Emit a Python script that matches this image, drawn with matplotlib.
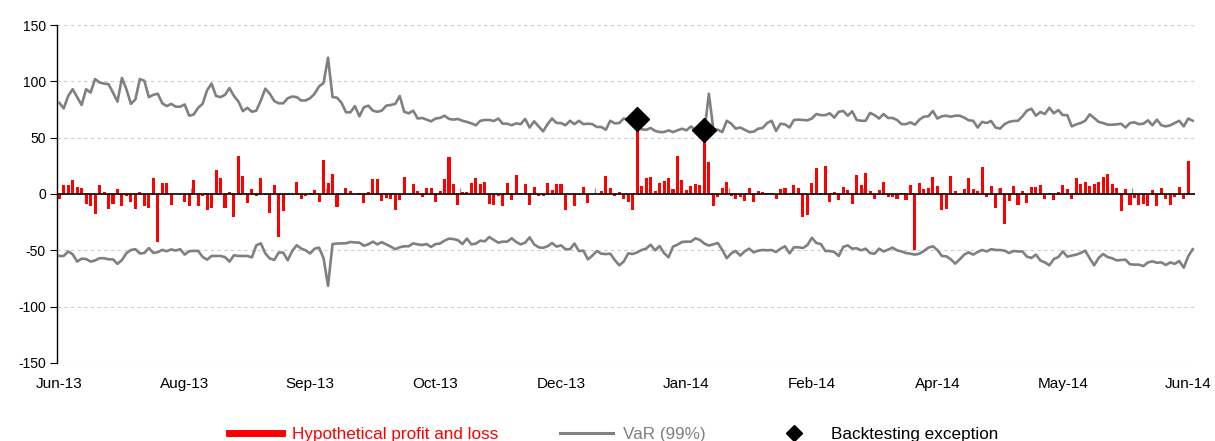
import numpy as np
import matplotlib
matplotlib.use('Agg')
import matplotlib.pyplot as plt
from matplotlib.lines import Line2D

# daily hypothetical P&L (one value per trading day)
pnl = [
    -4, 8, 8, 12, 6, 5, -9, -11, -18, 8,
    2, -13, -9, 4, -11, -1.5, -7, -13, 2, -11,
    -12, 14, -43, 10, 10, -10, 0, 0, -7, -11,
    12, -11, -2, -14, -12, 21, 14, -12, 2, -20,
    34, 16, -8, 4, -2, 14, -1, -17, 8, -38,
    -15, -1, 0, 11, -4, -1.5, 1, 3.5, -7, 30,
    9.5, 17.5, -11.5, 0, 5, 2.5, 0, 1, -8, 1.5,
    13, 13, -6, -3.5, -4, -14, -5, 15, 0, 9,
    3, -3, 5, 5, -7, 2.5, 13, 33, 9, -9.5,
    2, 2, 9.5, 14, 9, 10.5, -9, -10, -1.5, -11,
    10, -5, 16.5, 1, 8.5, -10, 6, -1.5, -2, 9.5,
    3.5, 9, 8.5, -14, 0, -10.5, 0, 6, -8, 0,
    0, 3, 16, 5.5, -1.5, 1.5, -4, -7.5, -14, 67,
    7, 14, 15, 2.7, 10, 11.5, 14, 4.7, 34, 12.4,
    3.6, 7, 9, 8, 57, 28, -10.5, -2.4, 5, 11,
    -1.5, -4, -2.4, -6.5, 5, -7, 2.4, 2, 0.6, 0.6,
    -4.5, 4.4, 5.3, 0, 7.7, 5.3, -20, -19, 9.5, 23,
    0.9, 25, -7.5, 1.5, -5.6, 6, 3.8, -9, 17, 7.7,
    19, 2.7, -4.4, 3.3, 11, -2.4, -2.7, -4, 0.6, -5.6,
    8, -50, 10, 4.4, 5, 15, 6.8, -14, -13.6, 15.7,
    2.4, 0, 4.4, 14, 4.7, 2.7, 24, -2.4, 6.8, -12,
    5.6, -27, -6, 6.8, -9.8, 3, -7.7, 6, 6.5, 7.7,
    -4.7, 1.2, -5, 1.8, 7.7, 4, -4, 14, 9, 10.4,
    7, 9, 11, 14.8, 17.5, 9, 5, -14.8, 4, -10,
    -3.5, -9.8, -9, -10.4, 3.3, -11, 5, -4.7, -10, -2.4,
    6, -4, 29, 0,
]

# VaR (99%) upper band
var_up = [
    81, 76, 87, 93, 86, 79, 93, 90, 102, 99,
    98, 97.5, 90, 82, 103, 93, 80, 84, 102, 100.5,
    86, 88, 89, 80.5, 78, 80, 77.5, 77.5, 79.5, 69.5,
    70.5, 76.5, 80, 92, 98, 87, 86, 88, 94, 87,
    82, 73.5, 76.5, 73, 74, 83, 93.5, 89, 82.5, 80.5,
    80.5, 85, 86.5, 86, 83, 83, 85, 89, 95.5, 98.5,
    121, 86, 85.5, 81, 72.5, 72.5, 78, 69, 77, 78.4,
    74, 73, 74, 78.4, 79, 80, 87, 73, 71.6, 74,
    67, 67.5, 66, 64.5, 67, 67.5, 69.5, 66.6, 66, 66.6,
    65, 64, 62.7, 61, 65, 65.7, 65.7, 64.8, 67, 62.4,
    62.4, 61, 62.7, 62, 66.6, 59, 64.5, 60, 55.6, 62,
    67, 63, 63, 61, 65, 62, 65, 62, 62.4, 62,
    59.5, 59.5, 57, 65, 62.7, 63, 67, 65.7, 65, 61,
    57.4, 57, 58.6, 56, 55, 55, 56.5, 55, 56.5, 58,
    56.5, 60, 56.5, 57.4, 55, 89, 57.7, 57, 55, 65,
    62.4, 58, 59, 57, 55, 55.3, 58, 58.6, 63, 65,
    56, 62.4, 61.8, 59, 65.7, 66, 65.7, 65.4, 67, 71,
    70, 70, 71.6, 67.8, 73, 73.7, 69.5, 73.4, 65.7, 65,
    65, 72, 70, 67, 71, 67.5, 67.5, 65.7, 62, 62,
    63.6, 61.5, 66, 68.6, 69, 73.7, 67, 69, 69.5, 68.6,
    69.5, 69.5, 67.8, 65.4, 65, 59, 64, 63, 64.8, 59,
    58, 62, 64, 64.8, 65, 69, 74, 75.7, 69.5, 72.8,
    71, 76.6, 71.6, 74.5, 70, 70, 60, 61.8, 63, 65,
    70.7, 67.5, 64, 63, 61.5, 61.5, 61.8, 62.4, 59, 63,
    63.6, 62, 62.4, 65.4, 61, 66, 61, 60, 61, 63,
    65, 60, 67, 65,
]

# VaR (99%) lower band
var_down = [
    -55, -55, -51, -53.5, -60, -57.4, -57.7, -60, -59, -57,
    -57, -58, -58, -62, -58.6, -52.5, -49.7, -49, -52.8, -52.4,
    -48, -52.3, -51.6, -49.6, -50.8, -49.2, -50.2, -49, -53.8, -50.8,
    -50.5, -50.5, -55.8, -58.3, -55, -55, -55, -56, -60, -54.4,
    -55, -55, -55, -56.3, -45.5, -43.8, -52.8, -57.2, -58.5, -52,
    -52, -58.8, -50.6, -45.5, -48.4, -50, -52.8, -48.5, -47.6, -57,
    -81.5, -44.4, -44, -43.8, -43.8, -42.6, -43, -43.2, -45.9, -44.7,
    -42.3, -44.7, -42.8, -44.7, -46.7, -49, -47.3, -46.4, -46.4, -43.8,
    -44.7, -45.3, -44.4, -47, -44.4, -44, -41.4, -39.6, -40, -41,
    -44.4, -39.6, -44.7, -44, -41.4, -42, -38.2, -40.8, -43.2, -42.3,
    -42.3, -39.3, -42.6, -44.7, -43.2, -38.5, -44.7, -47.3, -47.8, -46.4,
    -43.5, -46.7, -45.6, -49, -49, -44, -50.6, -50.3, -58, -54.7,
    -50.6, -53, -53.3, -53, -58.6, -63.3, -60, -52.7, -53.3, -51.8,
    -49.7, -48.5, -45, -50, -46.2, -52.4, -56.2, -46.7, -45, -42.6,
    -42.3, -42.3, -39.3, -40.8, -44, -45.8, -44.7, -43.5, -49.7, -57,
    -52.7, -50.6, -54.7, -50.9, -48.5, -51.8, -50.3, -49.7, -50, -49.7,
    -51.5, -48.5, -46.4, -52.7, -47.3, -47.3, -48, -45.3, -38.8, -43.5,
    -44.4, -50.6, -50.6, -51.5, -55, -47, -45.6, -48.5, -48.2, -50,
    -48.5, -52.5, -53, -48.5, -51, -49.4, -47.6, -50, -51, -52.4,
    -53, -53.8, -53, -50.6, -47.6, -46.4, -49.7, -55, -55.3, -58,
    -61.8, -58, -53.8, -51.8, -53.8, -51.5, -49.7, -51, -49, -49.7,
    -49.7, -50.3, -52.4, -50.6, -51, -51, -55.6, -56.8, -53.8, -59,
    -60.7, -63.3, -57.7, -56, -51, -55.6, -54.7, -53.8, -52.4, -50.3,
    -57, -63.3, -56.8, -53.3, -56, -57, -58.9, -58.6, -58.3, -62.4,
    -62.7, -62.7, -64, -60.7, -59.8, -61, -60.7, -63, -60.7, -62,
    -59.5, -65.4, -55.3, -49,
]

# days where P&L breached VaR
exception_days = [129, 144]

month_labels = ['Jun-13', 'Aug-13', 'Sep-13', 'Oct-13', 'Dec-13',
                'Jan-14', 'Feb-14', 'Apr-14', 'May-14', 'Jun-14']
label_every = 28
tick_every = 30

RED = '#ff0000'
GREY = '#808080'

plt.rcParams['font.family'] = ['Liberation Sans', 'DejaVu Sans']
plt.rcParams['axes.unicode_minus'] = False

n = len(var_up)
x = np.arange(n)
pnl_arr = np.array(pnl)

fig = plt.figure(figsize=(12.15, 4.41), dpi=100)
ax = fig.add_axes([0.0469, 0.1769, 0.9366, 0.7664])

ax.bar(np.arange(len(pnl)), pnl_arr, width=0.68, color=RED, zorder=2)
ax.plot(x, var_up, color=GREY, lw=1.9, zorder=3)
ax.plot(x, var_down, color=GREY, lw=1.9, zorder=3)
ax.plot(exception_days, pnl_arr[exception_days], linestyle='none', marker='D',
        markersize=12, color='black', zorder=5)
ax.axhline(0, color='black', lw=1.2, zorder=4)

ax.set_xlim(-0.5, n - 0.5)
ax.set_ylim(-150, 150)
ax.set_yticks(np.arange(-150, 151, 50))
ax.yaxis.grid(True, linestyle=(0, (3, 3)), color='#cccccc', lw=0.8, zorder=0)
ax.set_axisbelow(True)

ax.set_xticks(np.arange(0, label_every * len(month_labels), label_every))
ax.set_xticklabels(month_labels, fontsize=11)
ax.tick_params(axis='x', length=0, pad=10)
ax.tick_params(axis='y', length=5, width=0.8, labelsize=10, pad=3)

for side in ['top', 'right', 'bottom']:
    ax.spines[side].set_visible(False)
ax.spines['left'].set_linewidth(1.0)

# small category tick marks along the zero line
zero_axis = ax.secondary_xaxis(0.5)
zero_axis.set_xticks(np.arange(tick_every - 0.5, n, tick_every))
zero_axis.set_xticklabels([])
zero_axis.tick_params(length=4, width=1, color='#999999', direction='out')
for sp in zero_axis.spines.values():
    sp.set_visible(False)

handles = [
    Line2D([], [], color=RED, lw=5),
    Line2D([], [], color=GREY, lw=2.2),
    Line2D([], [], color='black', marker='D', markersize=8, linestyle='none'),
]
leg = fig.legend(handles, ['Hypothetical profit and loss', 'VaR (99%)', 'Backtesting exception'],
                 loc='center', bbox_to_anchor=(0.505, 0.015), ncol=3, frameon=False,
                 handlelength=3.1, handletextpad=0.6, columnspacing=3.6,
                 prop={'size': 12.3})
for txt, col in zip(leg.get_texts(), [RED, GREY, 'black']):
    txt.set_color(col)

fig.savefig('out.png', dpi=100)
